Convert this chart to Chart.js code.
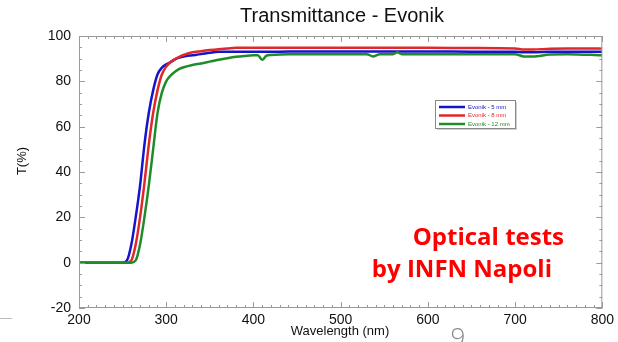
<!DOCTYPE html>
<html lang="en">
<head>
  <meta charset="UTF-8">
  <title>Transmittance - Evonik</title>
  <script src="https://cdn.jsdelivr.net/npm/chart.js"></script>
  <style>
    body {
      margin: 0;
      padding: 0;
      background: #ffffff;
    }
    #wrap {
      width: 618px;
      height: 342px;
    }
  </style>
</head>
<body>
  <div id="wrap">
    <canvas id="transChart" width="618" height="342"></canvas>
  </div>

  <script>
    // wavelength in nm, transmittance in %
    const wavelength = [200, 250, 255, 260, 265, 270, 275, 280, 285, 290, 295, 300, 305, 310, 315, 320, 330, 340, 350, 360, 370, 380, 390, 400, 405, 410, 415, 420, 440, 460, 480, 500, 520, 530, 537, 545, 560, 565, 570, 600, 650, 700, 710, 720, 740, 760, 800];
    const t5mm  = [0, 0, 1, 8, 20, 34, 52, 66, 76, 83, 86, 87.5, 88.5, 89.7, 90.5, 91, 91.5, 92, 92.6, 93, 93, 93, 93, 93, 93, 93, 93, 93, 93.2, 93.2, 93.2, 93.2, 93.2, 93.2, 93.2, 93.2, 93.2, 93.2, 93.2, 93.2, 93.1, 93, 92.8, 92.8, 93, 93, 93];
    const t8mm  = [0, 0, 0, 1, 8, 20, 35, 52, 66, 76, 83, 86.5, 88.5, 89.8, 90.8, 91.6, 92.8, 93.3, 93.8, 94.2, 94.5, 94.8, 94.8, 94.8, 94.8, 94.8, 94.8, 94.8, 94.8, 94.8, 94.8, 94.8, 94.8, 94.8, 94.8, 94.8, 94.8, 94.8, 94.8, 94.8, 94.7, 94.5, 94, 94, 94.4, 94.5, 94.5];
    const t12mm = [0, 0, 0, 0, 1, 8, 20, 34, 50, 66, 75, 80, 82.5, 84.2, 85.5, 86.2, 87.2, 87.9, 88.7, 89.5, 90.2, 90.8, 91.2, 91.5, 91.5, 89.5, 91.3, 91.6, 92, 92, 92, 92, 92, 92, 91, 92, 92, 92.8, 92, 92, 92, 92, 91, 91, 91.8, 92, 91.5];

    const seriesNames = ['Evonik - 5 mm', 'Evonik - 8 mm', 'Evonik - 12 mm'];
    const seriesColors = ['#1414c8', '#e02828', '#1e8c28'];
    const yTicks = [-20, 0, 20, 40, 60, 80, 100];
    const xTicks = [200, 300, 400, 500, 600, 700, 800];

    function toPoints(values) {
      return wavelength.map((x, i) => ({ x: x, y: values[i] }));
    }

    // title, axis names, inward ticks, frame, legend box and the red note
    const decorations = {
      id: 'decorations',
      afterDatasetsDraw(chart) {
        const ctx = chart.ctx;
        const area = chart.chartArea;
        const xs = chart.scales.x;
        const ys = chart.scales.y;
        ctx.save();

        // frame
        ctx.strokeStyle = '#9a9a9a';
        ctx.lineWidth = 1;
        ctx.strokeRect(area.left + 0.5, area.top + 0.5, area.right - area.left - 1, area.bottom - area.top - 1);

        // minor/major ticks pointing inward, on all four sides
        ctx.beginPath();
        for (let v = 200; v <= 800; v += 10) {
          const px = Math.round(xs.getPixelForValue(v)) + 0.5;
          const len = v % 100 === 0 ? 6 : 3;
          ctx.moveTo(px, area.bottom); ctx.lineTo(px, area.bottom - len);
          ctx.moveTo(px, area.top); ctx.lineTo(px, area.top + len);
        }
        for (let v = -20; v <= 100; v += 5) {
          const py = Math.round(ys.getPixelForValue(v)) + 0.5;
          const len = v % 20 === 0 ? 6 : 3;
          ctx.moveTo(area.left, py); ctx.lineTo(area.left + len, py);
          ctx.moveTo(area.right, py); ctx.lineTo(area.right - len, py);
        }
        ctx.stroke();

        // title
        ctx.fillStyle = '#111';
        ctx.font = '20px "Liberation Sans", Arial, sans-serif';
        ctx.textAlign = 'center';
        ctx.textBaseline = 'alphabetic';
        ctx.fillText('Transmittance - Evonik', 342, 22);

        // axis names
        ctx.font = '13px "Liberation Sans", Arial, sans-serif';
        ctx.fillText('Wavelength (nm)', 340, 335);
        ctx.save();
        ctx.translate(22, 161);
        ctx.rotate(-Math.PI / 2);
        ctx.textBaseline = 'middle';
        ctx.fillText('T(%)', 0, 0);
        ctx.restore();

        // legend
        const lx = 435, ly = 100, lw = 80, lh = 28;
        ctx.fillStyle = 'rgba(0,0,0,0.18)';
        ctx.fillRect(lx + 2, ly + 2, lw, lh);
        ctx.fillStyle = '#fff';
        ctx.fillRect(lx, ly, lw, lh);
        ctx.strokeStyle = '#888';
        ctx.strokeRect(lx + 0.5, ly + 0.5, lw, lh);
        ctx.font = '6px "Liberation Sans", Arial, sans-serif';
        ctx.textAlign = 'left';
        ctx.textBaseline = 'middle';
        chart.data.datasets.forEach((ds, i) => {
          const ry = ly + 7 + i * 8.5;
          ctx.strokeStyle = ds.borderColor;
          ctx.lineWidth = 2.5;
          ctx.beginPath();
          ctx.moveTo(lx + 4, ry);
          ctx.lineTo(lx + 30, ry);
          ctx.stroke();
          ctx.fillStyle = ds.borderColor;
          ctx.fillText(ds.label, lx + 33, ry);
        });

        // red note
        ctx.fillStyle = '#ff0000';
        ctx.font = 'bold 24px "Open Sans", Lato, sans-serif';
        ctx.textAlign = 'right';
        ctx.textBaseline = 'alphabetic';
        ctx.fillText('Optical tests', 564, 245);
        ctx.fillText('by INFN Napoli', 552, 277);

        // slide number
        ctx.fillStyle = '#8a8a8a';
        ctx.font = '300 26px "Open Sans", Lato, sans-serif';
        ctx.textAlign = 'center';
        ctx.fillText('9', 458, 346);

        ctx.strokeStyle = '#bbb';
        ctx.lineWidth = 1;
        ctx.beginPath();
        ctx.moveTo(0, 318.5);
        ctx.lineTo(12, 318.5);
        ctx.stroke();

        ctx.restore();
      }
    };

    const ctx = document.getElementById('transChart').getContext('2d');
    new Chart(ctx, {
      type: 'scatter',
      data: {
        datasets: [t5mm, t8mm, t12mm].map((vals, i) => ({
          label: seriesNames[i],
          data: toPoints(vals),
          borderColor: seriesColors[i],
          backgroundColor: seriesColors[i],
          borderWidth: 2.5,
          showLine: true,
          pointRadius: 0,
          cubicInterpolationMode: 'monotone',
          order: 2 - i
        }))
      },
      options: {
        responsive: false,
        animation: false,
        devicePixelRatio: 1,
        layout: { padding: { top: 36, right: 13, left: 0, bottom: 0 } },
        plugins: {
          legend: { display: false },
          title: { display: false },
          tooltip: { enabled: false }
        },
        scales: {
          x: {
            type: 'linear',
            min: 200,
            max: 800,
            afterBuildTicks: (scale) => { scale.ticks = xTicks.map(v => ({ value: v })); },
            afterFit: (scale) => { scale.height = 34; },
            grid: { display: false, tickLength: 0 },
            border: { display: false },
            ticks: {
              padding: 4,
              color: '#111',
              font: { family: '"Liberation Sans", Arial, sans-serif', size: 14 }
            }
          },
          y: {
            min: -20,
            max: 100,
            afterBuildTicks: (scale) => { scale.ticks = yTicks.map(v => ({ value: v })); },
            afterFit: (scale) => { scale.width = 79; },
            grid: { display: false, tickLength: 0 },
            border: { display: false },
            ticks: {
              padding: 8,
              color: '#111',
              font: { family: '"Liberation Sans", Arial, sans-serif', size: 14 }
            }
          }
        }
      },
      plugins: [decorations]
    });
  </script>
</body>
</html>
